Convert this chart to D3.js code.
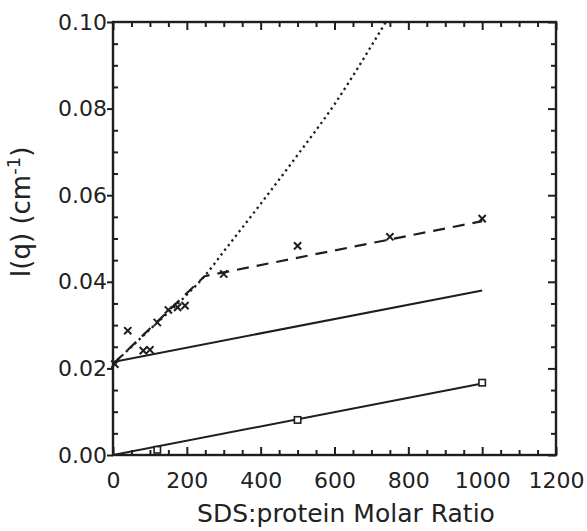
<!DOCTYPE html>
<html>
<head>
<meta charset="utf-8">
<script src="https://cdn.jsdelivr.net/npm/d3@7"></script>
<style>
  body { margin: 0; background: #fff; }
  svg text { font-family: "DejaVu Sans", Verdana, sans-serif; fill: #222; }
</style>
</head>
<body>
<div id="chart"></div>
<script>
const crossX = [5, 40, 82, 100, 120, 150, 175, 195, 300, 500, 750, 1000];
const crossY = [0.021, 0.0287, 0.0241, 0.0243, 0.0306, 0.0335, 0.0341, 0.0345, 0.0418, 0.0483, 0.0504, 0.0546];

const squareX = [120, 500, 1000];
const squareY = [0.0012, 0.0081, 0.0167];

// fitted lines
const dashX = [0, 248, 1000];
const dashY = [0.021, 0.0413, 0.054];

const dotX = [0, 100, 200, 250, 300, 400, 500, 600, 700, 760];
const dotY = [0.021, 0.029, 0.037, 0.0415, 0.047, 0.058, 0.0693, 0.081, 0.0945, 0.103];

const solidAX = [0, 1000];
const solidAY = [0.0215, 0.038];

const solidBX = [0, 1000];
const solidBY = [0, 0.0165];

const xTicks = [0, 200, 400, 600, 800, 1000, 1200];
const yTicks = [0.00, 0.02, 0.04, 0.06, 0.08, 0.10];

const W = 587, H = 531;
const margin = { top: 22, right: 31, bottom: 76, left: 113 };
const w = W - margin.left - margin.right;
const h = H - margin.top - margin.bottom;
const ink = '#1e1e1e';

const svg = d3.select('#chart').append('svg')
  .attr('width', W).attr('height', H);

const g = svg.append('g').attr('transform', `translate(${margin.left},${margin.top})`);

const x = d3.scaleLinear().domain([0, 1200]).range([0, w]);
const y = d3.scaleLinear().domain([0, 0.1]).range([h, 0]);

g.append('clipPath').attr('id', 'plot-clip')
  .append('rect').attr('width', w).attr('height', h);

const zip = (xs, ys) => xs.map((v, i) => [v, ys[i]]);
const line = d3.line().x(d => x(d[0])).y(d => y(d[1]));

const plot = g.append('g').attr('clip-path', 'url(#plot-clip)');

plot.append('path')
  .attr('d', line.curve(d3.curveMonotoneX)(zip(dotX, dotY)))
  .attr('fill', 'none').attr('stroke', ink)
  .attr('stroke-width', 2.3).attr('stroke-dasharray', '2.3,3.6');

line.curve(d3.curveLinear);

plot.append('path')
  .attr('d', line(zip(dashX, dashY)))
  .attr('fill', 'none').attr('stroke', ink)
  .attr('stroke-width', 2.2).attr('stroke-dasharray', '12,8');

for (const [xs, ys] of [[solidAX, solidAY], [solidBX, solidBY]]) {
  plot.append('path')
    .attr('d', line(zip(xs, ys)))
    .attr('fill', 'none').attr('stroke', ink)
    .attr('stroke-width', 2);
}

// markers
const cs = 3.6;
g.append('g').selectAll('path')
  .data(zip(crossX, crossY))
  .join('path')
  .attr('d', d => {
    const px = x(d[0]), py = y(d[1]);
    return `M${px - cs},${py - cs}L${px + cs},${py + cs}M${px - cs},${py + cs}L${px + cs},${py - cs}`;
  })
  .attr('stroke', ink).attr('stroke-width', 2);

const ss = 3.2;
g.append('g').selectAll('rect')
  .data(zip(squareX, squareY))
  .join('rect')
  .attr('x', d => x(d[0]) - ss).attr('y', d => y(d[1]) - ss)
  .attr('width', ss * 2).attr('height', ss * 2)
  .attr('fill', '#fff').attr('stroke', ink).attr('stroke-width', 1.6);

// axes: major + minor, ticks drawn inward on bottom/top/right
const xMinor = d3.range(0, 1201, 50).filter(v => v % 200 !== 0);
const yMinor = d3.range(0, 21).map(i => i * 0.005).filter((v, i) => i % 4 !== 0);

function styleAxis(sel) {
  sel.select('.domain').remove();
  sel.selectAll('line').attr('stroke', ink).attr('stroke-width', 2);
  sel.selectAll('text').attr('font-size', 22).attr('fill', ink);
}

g.append('g').attr('transform', `translate(0,${h})`)
  .call(d3.axisBottom(x).tickValues(xTicks).tickSizeInner(-8).tickSizeOuter(0).tickPadding(17)
    .tickFormat(d3.format('d')))
  .call(styleAxis);
g.append('g').attr('transform', `translate(0,${h})`)
  .call(d3.axisBottom(x).tickValues(xMinor).tickSizeInner(-5).tickSizeOuter(0).tickFormat(''))
  .call(styleAxis);

g.append('g')
  .call(d3.axisTop(x).tickValues(xTicks).tickSizeInner(-8).tickSizeOuter(0).tickFormat(''))
  .call(styleAxis);
g.append('g')
  .call(d3.axisTop(x).tickValues(xMinor).tickSizeInner(-5).tickSizeOuter(0).tickFormat(''))
  .call(styleAxis);

g.append('g')
  .call(d3.axisLeft(y).tickValues(yTicks).tickSizeInner(6).tickSizeOuter(0).tickPadding(0)
    .tickFormat(d3.format('.2f')))
  .call(styleAxis);
g.append('g')
  .call(d3.axisLeft(y).tickValues(yMinor).tickSizeInner(-5).tickSizeOuter(0).tickFormat(''))
  .call(styleAxis);

g.append('g').attr('transform', `translate(${w},0)`)
  .call(d3.axisRight(y).tickValues(yTicks).tickSizeInner(-8).tickSizeOuter(0).tickFormat(''))
  .call(styleAxis);
g.append('g').attr('transform', `translate(${w},0)`)
  .call(d3.axisRight(y).tickValues(yMinor).tickSizeInner(-5).tickSizeOuter(0).tickFormat(''))
  .call(styleAxis);

// frame
g.append('rect')
  .attr('width', w).attr('height', h)
  .attr('fill', 'none').attr('stroke', ink).attr('stroke-width', 2.4);

// titles
svg.append('text')
  .attr('x', 346).attr('y', 522)
  .attr('text-anchor', 'middle').attr('font-size', 25)
  .text('SDS:protein Molar Ratio');

const yt = svg.append('text')
  .attr('transform', 'translate(30,212) rotate(-90)')
  .attr('text-anchor', 'middle').attr('font-size', 26);
yt.append('tspan').text('I(q) (cm');
yt.append('tspan').attr('dy', -10).attr('font-size', 18).text('-1');
yt.append('tspan').attr('dy', 10).text(')');
</script>
</body>
</html>
